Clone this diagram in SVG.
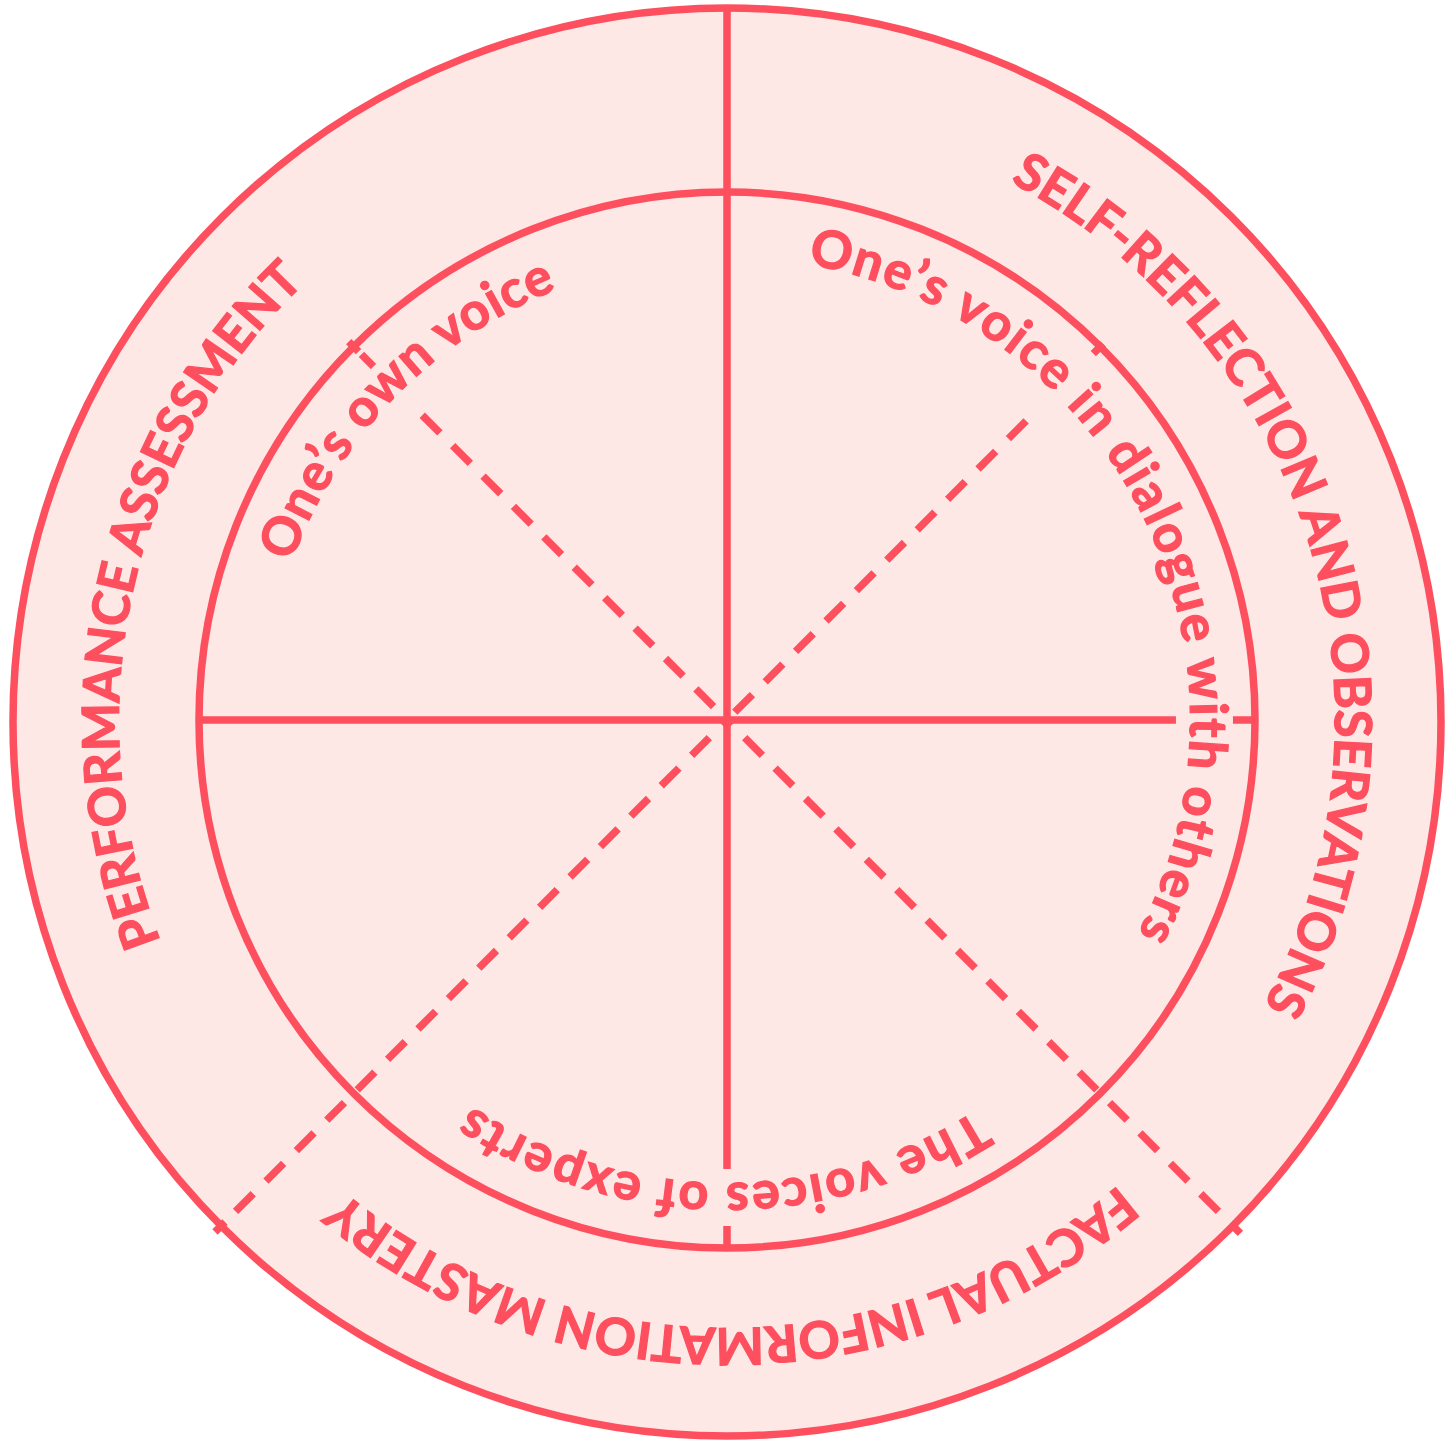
<svg xmlns="http://www.w3.org/2000/svg" width="1456" height="1443" viewBox="0 0 1456 1443">
<style>
.ring{fill:none;stroke:#fe4f5f;stroke-width:7.5}
.ln{stroke:#fe4f5f;stroke-width:7.5;fill:none}
.dash{stroke-dasharray:25 18}
.band{fill:none;stroke:#000}
.t{fill:#fe4f5f;stroke:#fe4f5f;stroke-width:1.3;font-family:Lato,"Liberation Sans",sans-serif;font-weight:700;text-anchor:middle}
.outer{font-size:51px}
.inner{font-size:52px}
</style>
<defs>
<path id="co" d="M727,112 A608,608 0 1,1 727,1328 A608,608 0 1,1 727,112"/>
<path id="ci" d="M727,257 A463,463 0 1,1 727,1183 A463,463 0 1,1 727,257"/>
<mask id="km" maskUnits="userSpaceOnUse" x="0" y="0" width="1456" height="1443">
<rect width="1456" height="1443" fill="#fff"/>
<path class="band" stroke-width="60" d="M320,485 A470,470 0 0,1 492,313"/>
<path class="band" stroke-width="70" d="M964.5,308.6 A475,475 0 0,1 1138.4,482.5"/>
<path class="band" stroke-width="57" d="M1175.7,556.7 A477.5,477.5 0 0,1 1175.7,883.3"/>
<path class="band" stroke-width="57" d="M809.9,1190.2 A477.5,477.5 0 0,1 644.1,1190.2"/>
</mask>
</defs>
<g id="outer-ring">
<circle cx="727" cy="722" r="714" fill="#fde8e6" stroke="#fe4f5f" stroke-width="7.5"/>
</g>
<g id="inner-circle">
<circle class="ring" cx="727" cy="720" r="528"/>
</g>
<g id="connectors">
<g mask="url(#km)">
<line class="ln" x1="727" y1="8" x2="727" y2="1248"/>
<line class="ln" x1="199" y1="720" x2="1255" y2="720"/>
<path class="ln dash" stroke-dashoffset="24" d="M727,720 L353.6,346.6"/>
<path class="ln dash" stroke-dashoffset="32" d="M727,720 L1100.4,346.6"/>
<path class="ln dash" stroke-dashoffset="18" d="M727,720 L221.4,1225.6"/>
<path class="ln dash" stroke-dashoffset="18" d="M727,720 L1232.6,1225.6"/>
</g>
<line class="ln" x1="358.6" y1="351.6" x2="348.7" y2="341.7"/>
<line class="ln" x1="1093.3" y1="353.7" x2="1103.2" y2="343.8"/>
<line class="ln" x1="225" y1="1222" x2="215" y2="1232"/>
<line class="ln" x1="1230.5" y1="1223.5" x2="1240.4" y2="1233.4"/>
</g>
<g id="label-self-reflection">
<text class="t outer"><textPath href="#co" startOffset="773.6" textLength="958" lengthAdjust="spacing">SELF-REFLECTION AND OBSERVATIONS</textPath></text>
</g>
<g id="label-performance">
<text class="t outer"><textPath href="#co" startOffset="2995.6" textLength="715" lengthAdjust="spacing">PERFORMANCE ASSESSMENT</textPath></text>
</g>
<g id="label-factual">
<text class="t outer"><textPath href="#co" startOffset="1904.8" textLength="841" lengthAdjust="spacing">FACTUAL INFORMATION MASTERY</textPath></text>
</g>
<g id="label-own-voice">
<text class="t inner"><textPath href="#ci" startOffset="2539" textLength="392" lengthAdjust="spacing">One’s own voice</textPath></text>
</g>
<g id="label-dialogue">
<text class="t inner"><textPath href="#ci" startOffset="515.2" textLength="869" lengthAdjust="spacing">One’s voice in dialogue with others</textPath></text>
</g>
<g id="label-experts">
<text class="t inner"><textPath href="#ci" startOffset="1458.6" textLength="533" lengthAdjust="spacing">The voices of experts</textPath></text>
</g>
</svg>
